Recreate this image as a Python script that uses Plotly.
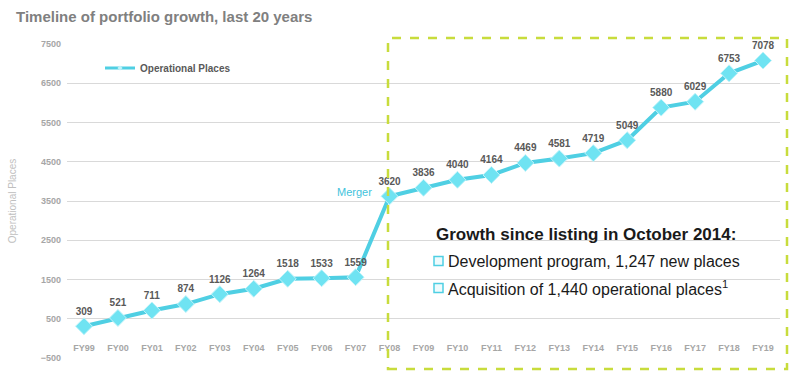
import plotly.graph_objects as go

categories = ["FY99", "FY00", "FY01", "FY02", "FY03", "FY04", "FY05", "FY06", "FY07", "FY08",
              "FY09", "FY10", "FY11", "FY12", "FY13", "FY14", "FY15", "FY16", "FY17", "FY18", "FY19"]
places = [309, 521, 711, 874, 1126, 1264, 1518, 1533, 1559, 3620,
          3836, 4040, 4164, 4469, 4581, 4719, 5049, 5880, 6029, 6753, 7078]
y_ticks = [-500, 500, 1500, 2500, 3500, 4500, 5500, 6500, 7500]

LINE = "#4fcfe3"
GRAY = "#a6a6a6"

def px(xp):
    return (xp - 67) / 713

def py(yp):
    return (358 - yp) / 314

fig = go.Figure()
fig.add_trace(go.Scatter(
    x=categories, y=places, mode="lines+markers+text", name="Operational Places",
    line=dict(color=LINE, width=4),
    marker=dict(symbol="diamond", size=13, color="#6fe3f2", line=dict(color="#bff3fa", width=1)),
    text=[str(v) for v in places], textposition="top center",
    textfont=dict(family="Arial, Liberation Sans", size=10, color="#595959", weight="bold"),
    cliponaxis=False, showlegend=False,
))
# legend-only entry (thin line, tiny marker)
fig.add_trace(go.Scatter(
    x=[None], y=[None], mode="lines+markers", name="Operational Places",
    line=dict(color=LINE, width=3), marker=dict(symbol="diamond", size=4, color="#bff3fa"),
))

fig.update_layout(
    width=810, height=384,
    margin=dict(l=67, r=30, t=44, b=26, autoexpand=False),
    plot_bgcolor="white", paper_bgcolor="white",
    font=dict(family="Arial, Liberation Sans", color=GRAY),
    showlegend=True,
    legend=dict(x=px(100), y=py(68), xanchor="left", yanchor="middle",
                bgcolor="rgba(0,0,0,0)", font=dict(size=10, color="#595959", weight="bold"),
                itemwidth=30, tracegroupgap=0),
    title=dict(text="<b>Timeline of portfolio growth, last 20 years</b>", x=16 / 810, xanchor="left",
               xref="container", y=1 - 17 / 384, yanchor="middle",
               font=dict(size=15, color="#808080"), automargin=False),
)
fig.update_xaxes(
    type="category", range=[-0.5, 20.5], showgrid=False, showline=False, ticks="",
    ticklabelstandoff=-17, automargin=False,
    tickfont=dict(size=9, color=GRAY, weight="bold"),
)
fig.update_yaxes(
    range=[-500, 7500], tickvals=y_ticks, showgrid=True, gridcolor="#d9d9d9", gridwidth=1,
    zeroline=False, showline=False, ticks="", ticklabelstandoff=5, automargin=False,
    tickfont=dict(size=9, color=GRAY, weight="bold"),
    title=dict(text="Operational Places", font=dict(size=10, color="#bfbfbf"), standoff=22),
)

# dashed highlight box
fig.add_shape(type="rect", xref="paper", yref="paper",
              x0=px(388), x1=px(787), y0=py(369), y1=py(38),
              line=dict(color="#c8dc3c", width=2.5, dash="dash"), layer="above")

fig.add_annotation(x="FY08", y=3620, text="Merger", showarrow=False, xanchor="right",
                   xshift=-16, yshift=4, font=dict(size=11, color="#3fc3dc"))

fig.add_annotation(xref="paper", yref="paper", x=px(434), y=py(234),
                   xanchor="left", yanchor="middle", showarrow=False,
                   text="<b>Growth since listing in October 2014:</b>",
                   font=dict(size=17, color="#1a1a1a"))
bullets = ["Development program, 1,247 new places", "Acquisition of 1,440 operational places<sup>1</sup>"]
for i, b in enumerate(bullets):
    yc = 261 + 27 * i
    fig.add_shape(type="rect", xref="paper", yref="paper",
                  x0=px(434), x1=px(443), y0=py(yc + 4.5), y1=py(yc - 4.5),
                  line=dict(color="#4fcfe3", width=1.5), fillcolor="#eefbfd", layer="above")
    fig.add_annotation(xref="paper", yref="paper", x=px(446), y=py(yc),
                       xanchor="left", yanchor="middle", showarrow=False,
                       text=b, font=dict(size=16, color="#1a1a1a"))

fig.write_html("out.html", config={"displayModeBar": False},
               post_script="document.body.style.margin='0';")
